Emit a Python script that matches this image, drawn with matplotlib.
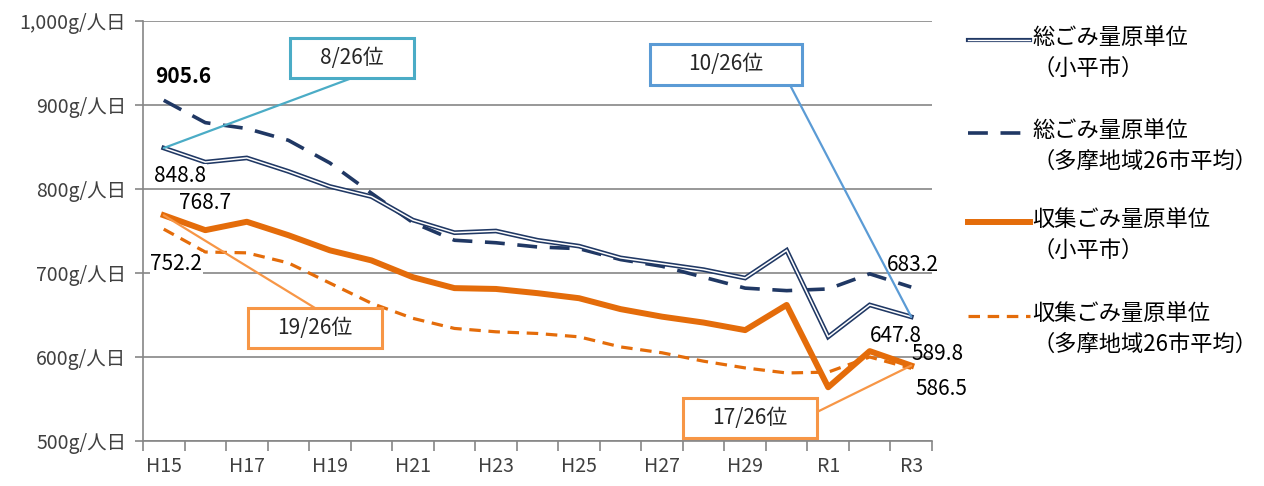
import numpy as np
import matplotlib.pyplot as plt
from matplotlib.lines import Line2D
from matplotlib.patches import Rectangle

plt.rcParams['font.family'] = ['Noto Sans CJK JP', 'DejaVu Sans']

years = ['H15', 'H16', 'H17', 'H18', 'H19', 'H20', 'H21', 'H22', 'H23', 'H24',
         'H25', 'H26', 'H27', 'H28', 'H29', 'H30', 'R1', 'R2', 'R3']
# 総ごみ量原単位（小平市）
kodaira_total = [848.8, 832, 837, 821, 803, 791, 763, 748, 750, 739,
                 732, 718, 711, 704, 694, 727, 624, 662, 647.8]
# 総ごみ量原単位（多摩地域26市平均）
tama_total = [905.6, 879, 872, 858, 831, 795, 760, 739, 736, 731,
              729, 716, 708, 695, 682, 679, 681, 699, 683.2]
# 収集ごみ量原単位（小平市）
kodaira_collect = [768.7, 751, 761, 745, 727, 715, 695, 682, 681, 676,
                   670, 657, 648, 641, 632, 662, 564, 607, 589.8]
# 収集ごみ量原単位（多摩地域26市平均）
tama_collect = [752.2, 725, 724, 712, 688, 664, 646, 634, 630, 628,
                624, 612, 605, 595, 587, 581, 582, 600, 586.5]

yticks = [500, 600, 700, 800, 900, 1000]
ytick_labels = ['500g/人日', '600g/人日', '700g/人日', '800g/人日', '900g/人日', '1,000g/人日']

legend_labels = ['総ごみ量原単位\n（小平市）', '総ごみ量原単位\n（多摩地域26市平均）',
                 '収集ごみ量原単位\n（小平市）', '収集ごみ量原単位\n（多摩地域26市平均）']

navy = '#203864'
orange = '#e46c0a'
grey = '#868686'
W, H = 1264, 486


def fpx(x, y):
    # pixel position -> figure fraction
    return x / W, 1 - y / H


fig = plt.figure(figsize=(12.64, 4.86), dpi=100)
ax = fig.add_axes([143 / W, 45 / H, 789 / W, 420 / H])
x = np.arange(len(years))

# lines
ax.plot(x, kodaira_total, color=navy, lw=3.4, solid_joinstyle='miter', zorder=5)
ax.plot(x, kodaira_total, color='white', lw=1.1, solid_joinstyle='miter', zorder=6)
ax.plot(x, tama_total, color=navy, lw=2.6, linestyle=(0, (5.5, 3.5)), zorder=4)
ax.plot(x, kodaira_collect, color=orange, lw=4.3, zorder=5)
ax.plot(x, tama_collect, color=orange, lw=2.3, linestyle=(0, (3.6, 2.4)), zorder=4)

ax.set_xlim(-0.5, len(years) - 0.5)
ax.set_ylim(500, 1000)
ax.set_yticks(yticks)
ax.set_yticklabels(ytick_labels, fontsize=14, color='#404040')
ax.set_xticks(x[::2])
ax.set_xticklabels(years[::2], fontsize=14, color='#404040')
ax.set_xticks(np.arange(len(years) + 1) - 0.5, minor=True)
ax.tick_params(axis='x', which='major', length=0, pad=11)
ax.tick_params(axis='x', which='minor', length=7, color=grey, width=1.2)
ax.tick_params(axis='y', length=6, color=grey, width=1.2, pad=6)
ax.grid(axis='y', color=grey, lw=1.2)
ax.set_axisbelow(True)
for s in ['top', 'right']:
    ax.spines[s].set_visible(False)
for s in ['left', 'bottom']:
    ax.spines[s].set_color(grey)
    ax.spines[s].set_linewidth(1.2)

# data labels (offsets in points)
lab_specs = [
    (tama_total, 0, (14, 17), 'bold', False),
    (kodaira_total, 0, (12, -20), 'normal', True),
    (kodaira_collect, 0, (30, 9), 'normal', False),
    (tama_collect, 0, (9, -25), 'normal', True),
    (tama_total, -1, (1, 16), 'normal', False),
    (kodaira_total, -1, (-11, -14), 'normal', False),
    (kodaira_collect, -1, (19, 8), 'normal', False),
    (tama_collect, -1, (22, -15), 'normal', False),
]
for series, i, off, wt, bg in lab_specs:
    idx = i % len(series)
    kw = {}
    if bg:
        kw['bbox'] = dict(facecolor='white', edgecolor='none', pad=0.5)
    ax.annotate(f'{series[idx]:.1f}', xy=(idx, series[idx]), xytext=off,
                textcoords='offset points', ha='center', va='center',
                fontsize=15, weight=wt, color='black', zorder=8, **kw)

# rank boxes: text, box (left, top, right, bottom px), line end px, point, colour
boxes = [
    ('8/26位', (290, 38, 414, 78), (352, 78), (0, kodaira_total[0]), '#4bacc6'),
    ('10/26位', (650, 44, 802, 85), (790, 85), (18, kodaira_total[-1]), '#5b9bd5'),
    ('19/26位', (248, 308, 382, 348), (315, 308), (0, kodaira_collect[0]), '#f79646'),
    ('17/26位', (683, 398, 817, 438), (817, 412), (18, kodaira_collect[-1]), '#f79646'),
]
for txt, (l, t, r, b), end, pt, c in boxes:
    ax.annotate('', xy=pt, xycoords='data', xytext=fpx(*end), textcoords='figure fraction',
                arrowprops=dict(arrowstyle='-', color=c, lw=1.6, shrinkA=0, shrinkB=0),
                zorder=7, annotation_clip=False)
    x0, y0 = fpx(l, b)
    x1, y1 = fpx(r, t)
    fig.add_artist(Rectangle((x0, y0), x1 - x0, y1 - y0, transform=fig.transFigure,
                             facecolor='white', edgecolor=c, lw=2.2, zorder=9))
    fig.text((x0 + x1) / 2, (y0 + y1) / 2, txt, ha='center', va='center',
             fontsize=15, color='#262626', zorder=10)

# legend drawn by hand
leg_y = [40, 133, 222, 316]
styles = [
    [dict(color=navy, lw=3.0), dict(color='white', lw=1.0)],
    [dict(color=navy, lw=2.6, linestyle=(0, (5.5, 3.5)))],
    [dict(color=orange, lw=4.3)],
    [dict(color=orange, lw=2.3, linestyle=(0, (3.6, 2.4)))],
]
for lab, yy, st in zip(legend_labels, leg_y, styles):
    a0 = fpx(968, yy)
    a1 = fpx(1030, yy)
    for s in st:
        fig.add_artist(Line2D([a0[0], a1[0]], [a0[1], a1[1]], transform=fig.transFigure, **s))
    tx, ty = fpx(1032, yy - 14)
    fig.text(tx, ty, lab, ha='left', va='top', fontsize=16, color='black', linespacing=1.45)

fig.savefig('out.png', dpi=100)
